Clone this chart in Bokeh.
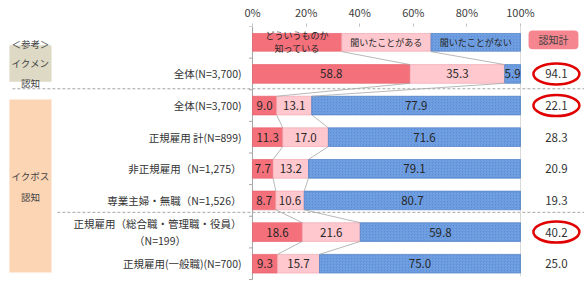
from bokeh.plotting import figure
from bokeh.models import Range1d, FixedTicker, PrintfTickFormatter, ColumnDataSource
from bokeh.core.properties import value
from bokeh.embed import file_html
from bokeh.resources import INLINE

# ---- data ----
row_labels = ["全体(N=3,700)", "全体(N=3,700)", "正規雇用 計(N=899)", "非正規雇用（N=1,275）",
              "専業主婦・無職（N=1,526）", "正規雇用（総合職・管理職・役員）", "正規雇用(一般職)(N=700)"]
row_label_sub = ["", "", "", "", "", "（N=199）", ""]
know = [58.8, 9.0, 11.3, 7.7, 8.7, 18.6, 9.3]
heard = [35.3, 13.1, 17.0, 13.2, 10.6, 21.6, 15.7]
never = [5.9, 77.9, 71.6, 79.1, 80.7, 59.8, 75.0]
total = [94.1, 22.1, 28.3, 20.9, 19.3, 40.2, 25.0]
circled = [True, True, False, False, False, True, False]
legend_names = ["どういうものか\n知っている", "聞いたことがある", "聞いたことがない"]
legend_shares = [33.3, 33.3, 33.4]
ticks = [0, 20, 40, 60, 80, 100]

FONT = value("Noto Sans CJK JP")
C_RED, C_PINK, C_BLUE = "#f4717c", "#ffc7ce", "#5a8fd8"
BAR_H = 0.59

p = figure(width=584, height=281, output_backend="svg", toolbar_location=None,
           x_range=Range1d(-94.03, 123.88), y_range=Range1d(7.5625, -0.5),
           x_axis_location="above", y_axis_location=None,
           min_border_top=23, min_border_left=0, min_border_right=0, min_border_bottom=0)
p.outline_line_color = None
p.grid.visible = False
ax = p.xaxis[0]
ax.ticker = FixedTicker(ticks=ticks)
ax.formatter = PrintfTickFormatter(format="%d%%")
ax.axis_line_color = None
ax.major_tick_out = 3
ax.major_tick_in = 0
ax.major_tick_line_color = "#bfbfbf"
ax.minor_tick_line_color = None
ax.major_label_text_font = "Noto Sans CJK JP"
ax.major_label_text_font_size = "11px"
ax.major_label_text_color = "#404040"
ax.major_label_standoff = 4

n = len(know)
rows = list(range(1, n + 1))

# side boxes
p.quad(left=[-90.7], right=[-75.0], top=[0.094], bottom=[1.25], fill_color="#ddd9c4", line_color=None)
p.quad(left=[-90.7], right=[-75.0], top=[1.81], bottom=[7.28], fill_color="#fcd5b5", line_color=None)
p.text(x=[-82.85], y=[0.67], text=["＜参考＞\nイクメン\n認知"], text_font=FONT, text_font_size="9.5px",
       text_align="center", text_baseline="middle", text_color="#404040", text_line_height=1.37)
p.text(x=[-82.85], y=[4.55], text=["イクボス\n認知"], text_font=FONT, text_font_size="9.5px",
       text_align="center", text_baseline="middle", text_color="#404040", text_line_height=1.5)

# dashed separators
p.segment(x0=[-89.6], x1=[123.88], y0=[1.469], y1=[1.469], line_color="#a6a6a6", line_dash="3 2", line_width=1)
p.segment(x0=[-72.8], x1=[123.88], y0=[5.375], y1=[5.375], line_color="#a6a6a6", line_dash="3 2", line_width=1)

# axis lines
p.segment(x0=[0], x1=[0], y0=[-0.5], y1=[7.5], line_color="#a6a6a6", line_width=1)
p.segment(x0=[100], x1=[100], y0=[-0.5], y1=[7.4], line_color="#d9d9d9", line_width=1)
bounds = [i - 0.5 for i in range(0, n + 2)]
p.segment(x0=[-1.3] * len(bounds), x1=[0] * len(bounds), y0=bounds, y1=bounds, line_color="#a6a6a6", line_width=1)

# legend bar (row 0)
l_left = [0, legend_shares[0], legend_shares[0] + legend_shares[1]]
l_right = [legend_shares[0], legend_shares[0] + legend_shares[1], 100]
cols = [C_RED, C_PINK, C_BLUE]
lines = ["#e8606b", "#f0a8b2", "#4f7fc4"]
for k in range(3):
    kw = {}
    if k == 2:
        kw = dict(hatch_pattern="/", hatch_color="#8cb2ea", hatch_scale=3, hatch_weight=0.8, hatch_alpha=0.8)
    p.hbar(y=[0], left=[l_left[k]], right=[l_right[k]], height=BAR_H - 0.03, fill_color=cols[k],
           line_color=lines[k], line_width=0.7, **kw)
p.text(x=[(l_left[k] + l_right[k]) / 2 for k in range(3)], y=[0, 0, 0], text=legend_names,
       text_font=FONT, text_font_size="9px", text_align="center", text_baseline="middle",
       text_color="#262626", text_line_height=1.0)

# data bars
k_right = know
h_left = know
h_right = [a + b for a, b in zip(know, heard)]
src = ColumnDataSource(dict(y=rows, k0=[0] * n, k1=k_right, h0=h_left, h1=h_right, n0=h_right, n1=[100] * n))
p.hbar(y="y", left="k0", right="k1", height=BAR_H, source=src, fill_color=C_RED, line_color="#e8606b", line_width=0.7)
p.hbar(y="y", left="h0", right="h1", height=BAR_H, source=src, fill_color=C_PINK, line_color="#f0a8b2", line_width=0.7)
p.hbar(y="y", left="n0", right="n1", height=BAR_H, source=src, fill_color=C_BLUE, line_color="#4f7fc4", line_width=0.7,
       hatch_pattern="/", hatch_color="#8cb2ea", hatch_scale=3, hatch_weight=0.8, hatch_alpha=0.8)

# series connector lines
b1 = [l_right[0]] + h_left
b2 = [l_right[1]] + h_right
x0s, x1s, y0s, y1s = [], [], [], []
for i in range(n):
    for b in (b1, b2):
        x0s.append(b[i]); x1s.append(b[i + 1])
        y0s.append(i + BAR_H / 2); y1s.append(i + 1 - BAR_H / 2)
p.segment(x0=x0s, x1=x1s, y0=y0s, y1=y1s, line_color="#a6a6a6", line_width=0.8)

# segment value labels
lab_x, lab_y, lab_t = [], [], []
for i in range(n):
    for a, b, v in ((0, know[i], know[i]), (h_left[i], h_right[i], heard[i]), (h_right[i], 100, never[i])):
        lab_x.append((a + b) / 2); lab_y.append(rows[i]); lab_t.append(f"{v:.1f}")
p.text(x=lab_x, y=lab_y, text=lab_t, text_font=FONT, text_font_size="11.5px", text_align="center",
       text_baseline="middle", text_color="#262626")

# row labels
p.text(x=[-4.1] * n, y=[r - (0.27 if s else 0) for r, s in zip(rows, row_label_sub)], text=row_labels,
       text_font=FONT, text_font_size="10.5px", text_align="right", text_baseline="middle", text_color="#333333")
sub_idx = [i for i, s in enumerate(row_label_sub) if s]
p.text(x=[-34.5] * len(sub_idx), y=[rows[i] + 0.28 for i in sub_idx], text=[row_label_sub[i] for i in sub_idx],
       text_font=FONT, text_font_size="10.5px", text_align="center", text_baseline="middle", text_color="#333333")

# right column
p.quad(left=[103.0], right=[121.6], top=[-0.375], bottom=[0.219], fill_color="#f5868f", line_color=None,
       border_radius=4)
p.text(x=[112.3], y=[-0.08], text=["認知計"], text_font=FONT, text_font_size="10px", text_align="center",
       text_baseline="middle", text_color="#404040")
p.text(x=[113.4] * n, y=rows, text=[f"{v:.1f}" for v in total], text_font=FONT, text_font_size="11.5px",
       text_align="center", text_baseline="middle", text_color="#333333")
cy = [rows[i] for i in range(n) if circled[i]]
p.ellipse(x=[113.4] * len(cy), y=cy, width=46, height=21, width_units="screen", height_units="screen",
          fill_color=None, line_color="#e00000", line_width=2.5)

open("out.html", "w").write(file_html(p, INLINE))
